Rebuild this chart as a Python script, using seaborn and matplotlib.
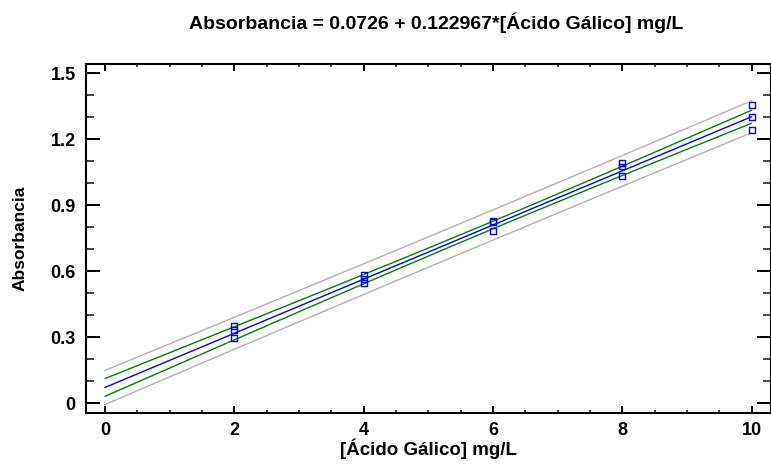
import numpy as np
import pandas as pd
import matplotlib
matplotlib.use("Agg")
import matplotlib.pyplot as plt
import seaborn as sns
from matplotlib.ticker import MultipleLocator

sns.set_theme(style="white")
plt.rcParams['font.family'] = ['Liberation Sans', 'DejaVu Sans']
plt.rcParams['text.color'] = 'black'
plt.rcParams['axes.labelcolor'] = 'black'

# Data
conc = [2, 2, 2, 4, 4, 4, 6, 6, 6, 8, 8, 8, 10, 10, 10]
absorb = [0.352, 0.334, 0.297, 0.582, 0.564, 0.546, 0.830, 0.825, 0.784,
          1.091, 1.076, 1.034, 1.356, 1.300, 1.243]
intercept = 0.0726
slope = 0.122967
t_crit = 2.1604  # t(0.975, 13)
ytick_vals = [0, 0.3, 0.6, 0.9, 1.2, 1.5]
ytick_labels = ["0", "0.3", "0.6", "0.9", "1.2", "1.5"]

df = pd.DataFrame({"x": conc, "y": absorb})
x = np.array(conc, float)
y = np.array(absorb, float)
n = len(x)
resid = y - (intercept + slope * x)
s = np.sqrt(np.sum(resid ** 2) / (n - 2))
xm = x.mean()
sxx = np.sum((x - xm) ** 2)

xg = np.linspace(0, 10, 201)
yg = intercept + slope * xg
ci = t_crit * s * np.sqrt(1 / n + (xg - xm) ** 2 / sxx)
pi = t_crit * s * np.sqrt(1 + 1 / n + (xg - xm) ** 2 / sxx)
lines = pd.DataFrame({"x": xg, "fit": yg, "cl": yg - ci, "cu": yg + ci,
                      "pl": yg - pi, "pu": yg + pi})

fig = plt.figure(figsize=(7.71, 4.65), dpi=100)
ax = fig.add_axes([0.111, 0.1125, 0.889, 0.75])

for col, c in [("pl", "#b4b4b4"), ("pu", "#b4b4b4"), ("cl", "#008000"), ("cu", "#008000")]:
    sns.lineplot(data=lines, x="x", y=col, ax=ax, color=c, lw=1.0)
sns.lineplot(data=lines, x="x", y="fit", ax=ax, color="#0000ff", lw=1.0)
sns.scatterplot(data=df, x="x", y="y", ax=ax, marker="s", s=18,
                facecolor="none", edgecolor="#0000ff", linewidth=1.0, zorder=5)

ax.set_xlim(-0.3, 10.3)
ax.set_ylim(-0.042, 1.542)
ax.xaxis.set_major_locator(MultipleLocator(2))
ax.xaxis.set_minor_locator(MultipleLocator(0.5))
ax.yaxis.set_minor_locator(MultipleLocator(0.1))
ax.set_yticks(ytick_vals)
ax.set_yticklabels(ytick_labels)

for sp in ax.spines.values():
    sp.set_color("black")
    sp.set_linewidth(1.5)

ax.tick_params(axis="x", which="major", direction="in", length=5, width=1.4,
               top=True, bottom=True, labelsize=13, colors="black", pad=7)
ax.tick_params(axis="x", which="minor", direction="in", length=2.5, width=1.2,
               top=True, bottom=True)
ax.tick_params(axis="y", which="major", direction="in", length=10, width=1.4,
               left=True, right=True, labelsize=13, colors="black", pad=7)
ax.tick_params(axis="y", which="minor", direction="in", length=5.5, width=1.2,
               left=True, right=True)
for lab in ax.get_xticklabels() + ax.get_yticklabels():
    lab.set_fontweight("bold")

ax.set_xlabel("[Ácido Gálico] mg/L", fontsize=13.5, fontweight="bold", labelpad=-1)
ax.set_ylabel("Absorbancia", fontsize=12.5, fontweight="bold")
ax.yaxis.set_label_coords(-0.084, 0.5)
fig.text(0.566, 0.952, "Absorbancia = 0.0726 + 0.122967*[Ácido Gálico] mg/L",
         ha="center", va="center", fontsize=14, fontweight="bold")

fig.savefig("out.png", dpi=100)
